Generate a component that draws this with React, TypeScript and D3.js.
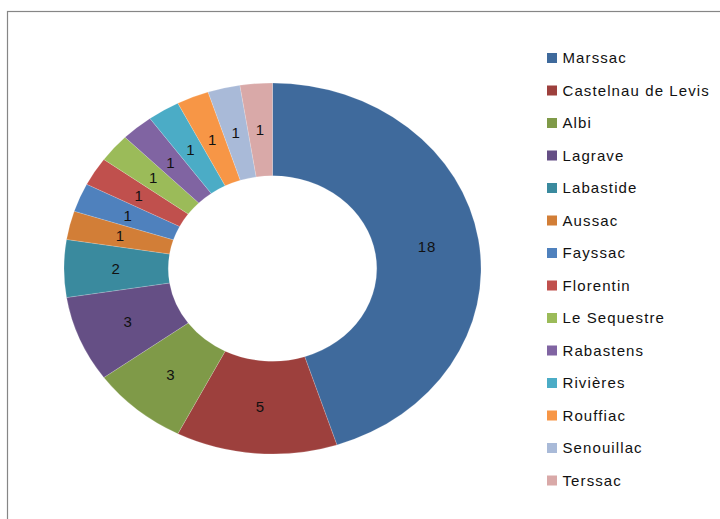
import React, { useEffect, useRef } from 'react'
import * as d3 from 'd3'

const communes = ['Marssac', 'Castelnau de Levis', 'Albi', 'Lagrave', 'Labastide', 'Aussac', 'Fayssac', 'Florentin', 'Le Sequestre', 'Rabastens', 'Rivières', 'Rouffiac', 'Senouillac', 'Terssac']
const counts = [18, 5, 3, 3, 2, 1, 1, 1, 1, 1, 1, 1, 1, 1]
const colors = ['#3F6A9C', '#9D403D', '#7F9A48', '#654F85', '#3A8A9E', '#D27E37', '#4F81BD', '#C0504D', '#9BBB59', '#8064A2', '#4BACC6', '#F79646', '#A9BAD8', '#D9A9A8']

const App = () => {
	const ref = useRef<SVGSVGElement>(null)

	useEffect(() => {
		const svg = d3.select(ref.current)
		svg.selectAll('*').remove()

		const cx = 272.5,
			cy = 268.5,
			rx = 208.5,
			ry = 185.5,
			squash = ry / rx

		// chart frame, runs off the right and bottom of the picture
		svg.append('rect')
			.attr('x', 7.5).attr('y', 11.5)
			.attr('width', 800).attr('height', 600)
			.attr('fill', '#fff').attr('stroke', '#868686').attr('stroke-width', 1.2)

		const color = d3.scaleOrdinal<string, string>().domain(communes).range(colors)
		const pie = d3.pie<number>().sort(null)
		const arcs = pie(counts)
		const arc = d3.arc<d3.PieArcDatum<number>>().innerRadius(rx * 0.5).outerRadius(rx)
		const mid = d3.arc<d3.PieArcDatum<number>>().innerRadius(rx * 0.75).outerRadius(rx * 0.75)

		const g = svg.append('g')
			.attr('transform', 'translate(' + cx + ',' + cy + ') scale(1,' + squash + ')')
		g.selectAll('path')
			.data(arcs)
			.enter()
			.append('path')
			.attr('d', arc)
			.attr('fill', (d, i) => color(communes[i]))
			.attr('stroke', '#fff').attr('stroke-width', 0.3).attr('stroke-opacity', 0.6)

		// value labels, placed without the vertical squash so the text is not distorted
		svg.append('g')
			.selectAll('text')
			.data(arcs)
			.enter()
			.append('text')
			.attr('x', d => cx + mid.centroid(d)[0])
			.attr('y', d => cy + mid.centroid(d)[1] * squash)
			.attr('dy', '0.35em')
			.attr('text-anchor', 'middle')
			.style('font-family', 'Liberation Sans, Arial, sans-serif')
			.style('font-size', '15px')
			.style('letter-spacing', '0.8px')
			.attr('fill', '#111')
			.text(d => d.data)

		const legend = svg.append('g')
			.selectAll('g')
			.data(communes)
			.enter()
			.append('g')
			.attr('transform', (d, i) => 'translate(547,' + (58 + i * 32.5) + ')')
		legend.append('rect')
			.attr('x', 0).attr('y', -5)
			.attr('width', 10).attr('height', 10)
			.attr('fill', d => color(d))
		legend.append('text')
			.attr('x', 15.5).attr('dy', '0.35em')
			.style('font-family', 'Liberation Sans, Arial, sans-serif')
			.style('font-size', '15px')
			.style('letter-spacing', '1.1px')
			.attr('fill', '#111')
			.text(d => d)
	}, [])

	return (
		<svg
			ref={ref}
			width={720}
			height={519}
			style={{ position: 'absolute', left: 0, top: 0, background: '#fff' }}
		></svg>
	)
}

export default App
